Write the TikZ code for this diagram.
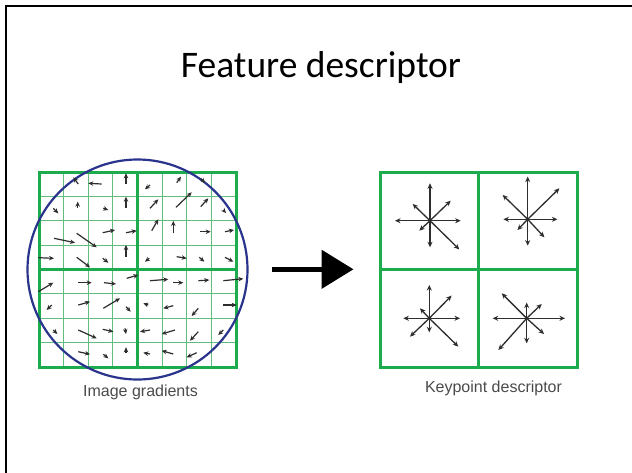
\documentclass[tikz,border=0pt]{standalone}
\usepackage{fontspec}
\setmainfont{Carlito}
\newfontfamily\capfont{Liberation Sans}
\usetikzlibrary{arrows.meta}
\definecolor{gridgreen}{RGB}{28,172,78}
\definecolor{thingreen}{RGB}{95,190,125}
\definecolor{ringblue}{RGB}{42,52,140}
\definecolor{arrowgray}{RGB}{45,45,45}
\definecolor{capgray}{RGB}{75,75,75}
\tikzset{
  thick grid/.style={draw=gridgreen, line width=3pt},
  thin grid/.style={draw=thingreen, line width=0.9pt},
  grad/.style={draw=arrowgray, line width=1.2pt, -{Stealth[length=5pt,width=4.5pt]}},
  star/.style={draw=arrowgray, line width=1.3pt, -{Stealth[length=5.5pt,width=5pt]}},
  caption/.style={font=\capfont\fontsize{16}{19}\selectfont, text=capgray, inner sep=0pt},
}
\begin{document}
\begin{tikzpicture}[x=1pt,y=-1pt]
\useasboundingbox (0,0) rectangle (632,472);
\fill[white] (0,0) rectangle (632,472);
% slide frame (only the top and left edges fall inside the page)
\draw[black, line width=2pt] (6,480) -- (6,6) -- (640,6);

% title
\node[font=\fontsize{37.5}{45}\selectfont, anchor=base] (title) at (321,77) {Feature descriptor};

% ---------- left: 8x8 sample grid ----------
\foreach \i in {1,...,7} {
  \draw[thin grid] ({39+\i*24.625},172) -- ({39+\i*24.625},367);
  \draw[thin grid] (39,{172+\i*24.375}) -- (236,{172+\i*24.375});
}
\draw[thick grid] (39,172) rectangle (236,367);
\draw[thick grid] (137.5,172) -- (137.5,367);
\draw[thick grid] (39,269.5) -- (236,269.5);
\node[draw=none, minimum size=197pt, inner sep=0pt] (lgrid) at (137.5,269.5) {};

% gaussian window
\draw[ringblue, line width=2.2pt] (137.5,269.5) circle [radius=110pt];

% image gradients
\foreach \ax/\ay/\bx/\by in {
  78.3/184/73.3/177.3, 101.7/184/88.3/183.3, 126/184/126/173.3, 150/185/145/189.3,
  176.7/182.7/181/176.7, 200.7/178.3/205/183,
  53.3/208.3/58.3/213.3, 77.7/208.3/77.7/201.7, 103.3/208.3/108.3/210, 126/208.3/126/196.7,
  150/208.3/158.3/199.3, 176/207.3/191.7/192.3, 200.7/206.7/208.3/198.3, 223.3/210/226/213,
  54/238.3/75/242.7, 76.7/233.3/96.7/247.3, 102.7/232.7/115/230, 126/232.7/136.7/230.7,
  151.7/230.7/158.3/219.3, 173.3/233.3/173.3/221, 200/231.7/210.7/231.7, 225/231.7/234/230,
  38.3/257.7/54/258.3, 76.7/257.3/90/267.3, 102.7/258.3/108.3/262.7, 126/256.7/126/245,
  149.3/258.3/145/261.7, 176.7/256.7/186.7/258.3, 199.3/257.3/204.3/261.7, 225/257.3/233.3/261.7,
  38.3/291.7/53.3/282.7, 78.3/282.7/91.7/282.7, 104/282.7/116/284, 126.7/278.3/138.3/275,
  150/280.7/168.3/279.3, 173.3/282.7/183.3/282.7, 198.3/280.7/209.3/280, 223.3/280.7/243.3/278.7,
  51.7/305/46.7/310, 78.3/305/90/301.7, 103.3/308.3/120/298.3, 126/306.7/130.7/311.7,
  148.3/305/143.3/303.3, 173.3/305.7/163.3/308.3, 198.3/308.3/191.7/316, 223.3/305/236.7/305,
  53.3/330/57.3/334, 78.3/330/96.7/338.3, 102.7/329.3/113.3/331.7, 125/328.3/126/334,
  150/330/140/331.7, 175/330/161.7/334, 198.3/331.7/190/340.7, 223.3/330/218.3/335,
  78.3/351.7/90/354.3, 103.3/354.3/108.3/358.3, 126/353.3/126/347.3,
  150/354/143.3/352.7, 173.3/354/161.7/350.7, 196.7/352.7/186.7/357.3}
  \draw[grad] (\ax,\ay) -- (\bx,\by);

\node[caption, anchor=center] (lcap) at (140.5,392) {Image gradients};

% ---------- transformation arrow ----------
\coordinate (arrtail) at (271.5,269.3);
\coordinate (arrhead) at (353.5,269.3);
\draw[black, line width=5pt, -{Triangle[length=32pt,width=38pt]}] (arrtail) -- (arrhead);

% ---------- right: 2x2 descriptor ----------
\draw[thick grid] (380,172) rectangle (577,367);
\draw[thick grid] (478.3,172) -- (478.3,367);
\draw[thick grid] (380,269) -- (577,269);
\node[draw=none, minimum size=197pt, inner sep=0pt] (rgrid) at (478.5,269.5) {};

\coordinate (sTL) at (430,220.7);
\coordinate (sTR) at (527.7,219.3);
\coordinate (sBL) at (429.3,318.3);
\coordinate (sBR) at (526.7,318.3);
\foreach \dx/\dy in {0/-37.4, 0/26.6, -35/0, 30.7/0, -17.3/-16.7, 20.7/-20, -10.7/10, 29.3/28.7}
  \draw[star] (sTL) -- ++(\dx,\dy);
\foreach \dx/\dy in {0/-42.7, 0/26.3, -24.3/0, 29.7/0, -25/-24.3, 31.7/-31, -10.3/10.7, 16.7/18}
  \draw[star] (sTR) -- ++(\dx,\dy);
\foreach \dx/\dy in {0/-33.3, 0/14, -26/0, 30.7/0, -9.3/-10, 22.3/-22.7, -19.3/18.3, 29/28.3}
  \draw[star] (sBL) -- ++(\dx,\dy);
\foreach \dx/\dy in {0/-15.7, 0/25, -34/0, 38.3/0, -25/-25, 15/-14.3, -28.3/31.7, 17.3/15.7}
  \draw[star] (sBR) -- ++(\dx,\dy);

\node[caption, anchor=center] (rcap) at (493.5,388) {Keypoint descriptor};
\end{tikzpicture}
\end{document}
